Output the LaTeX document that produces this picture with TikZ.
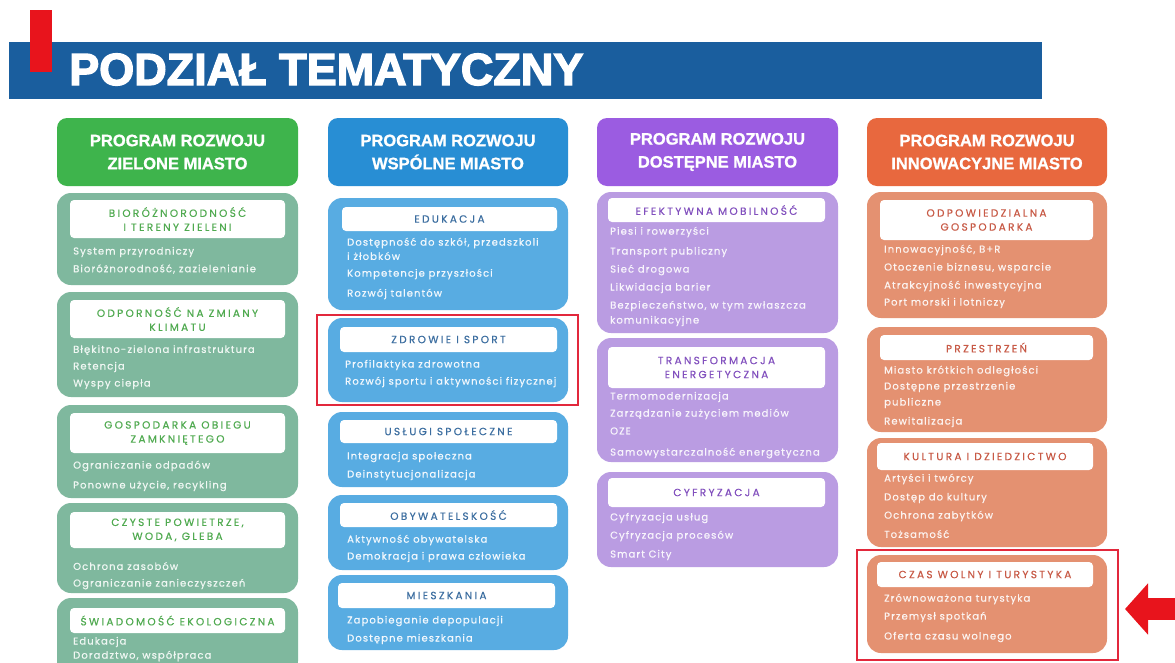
\documentclass[tikz,border=0pt]{standalone}
\usepackage{fontspec}
\usepackage{graphicx}
\setmainfont{Liberation Sans}
\newfontfamily\hdrf{Liberation Sans}[BoldFeatures={FakeBold=1}]
\newfontfamily\titlef{Liberation Sans}[BoldFeatures={FakeBold=3}]
\newfontfamily\subf{Poppins}[LetterSpace=22, FakeBold=0.4]
\newfontfamily\itmf{Poppins}[LetterSpace=11, FakeBold=0.6]
\usetikzlibrary{fit,arrows.meta}
\definecolor{bannerblue}{RGB}{26,94,158}
\definecolor{barred}{RGB}{232,20,28}
\definecolor{framered}{RGB}{226,40,60}
\definecolor{ghead}{RGB}{62,180,76}
\definecolor{gsub}{RGB}{127,184,158}
\definecolor{gtxt}{RGB}{80,170,80}
\definecolor{bhead}{RGB}{40,142,212}
\definecolor{bsub}{RGB}{88,172,226}
\definecolor{btxt}{RGB}{60,110,160}
\definecolor{phead}{RGB}{155,92,225}
\definecolor{psub}{RGB}{186,156,226}
\definecolor{ptxt}{RGB}{130,80,190}
\definecolor{ohead}{RGB}{232,104,62}
\definecolor{osub}{RGB}{228,145,113}
\definecolor{otxt}{RGB}{200,90,70}
\tikzset{
  hdr/.style={inner sep=0pt, outer sep=0pt, rounded corners=10pt, text=white, align=center,
    font=\hdrf\bfseries\fontsize{16.5}{23}\selectfont},
  panel/.style={inner sep=0pt, outer sep=0pt, rounded corners=14pt},
  ttl/.style={inner sep=0pt, outer sep=0pt, fill=white, rounded corners=4pt, align=center,
    font=\subf\fontsize{10.5}{14}\selectfont},
  itm/.style={anchor=west, inner sep=0pt, font=\itmf\fontsize{10}{11}\selectfont},
  gitm/.style={itm, text=white!88!gsub},
  bitm/.style={itm, text=white!92!bsub},
  pitm/.style={itm, text=white!90!psub},
  oitm/.style={itm, text=white!90!osub},
  hilite/.style={draw=framered, line width=1.6pt, inner sep=0pt, outer sep=0pt}
}
\begin{document}
\begin{tikzpicture}[x=1pt,y=-1pt]
\useasboundingbox (0,0) rectangle (1175,662);
\clip (0,0) rectangle (1175,662);
\fill[white] (0,0) rectangle (1175,662);
% banner
\node[fill=bannerblue, inner sep=0pt, fit={(9,42) (1042,99)}] (banner) {};
\node[fill=barred, inner sep=0pt, fit={(30,10) (52,72)}] (bar) {};
\node[anchor=base west, inner sep=0pt, text=white,
  font=\titlef\bfseries\fontsize{45}{45}\selectfont] (title) at (69,85)
  {PODZIAŁ TEMATYCZNY};
% ===== column 1 green
\node[hdr, fill=ghead, fit={(57,118) (298,186)}] (gh) {};
\node[hdr] at (gh.center) (ghtext) {PROGRAM ROZWOJU\\ZIELONE MIASTO};
\node[panel, fill=gsub, fit={(57,193) (298,285)}] (g1) {};
\node[ttl, text=gtxt, fit={(70,200) (285,238)}] (g1t) {};
\node[ttl, fill=none, text=gtxt] at (g1t.center) {BIORÓŻNORODNOŚĆ\\I TERENY ZIELENI};
\node[gitm] (g1a) at (73,252) {System przyrodniczy};
\node[gitm] (g1b) at (73,269) {Bioróżnorodność, zazielenianie};
\node[panel, fill=gsub, fit={(57,292) (298,397)}] (g2) {};
\node[ttl, fit={(70,300) (285,338)}] (g2t) {};
\node[ttl, fill=none, text=gtxt] at (g2t.center) {ODPORNOŚĆ NA ZMIANY\\KLIMATU};
\node[gitm] (g2a) at (73,350) {Błękitno-zielona infrastruktura};
\node[gitm] (g2b) at (73,367) {Retencja};
\node[gitm] (g2c) at (73,384) {Wyspy ciepła};
\node[panel, fill=gsub, fit={(57,405) (298,498)}] (g3) {};
\node[ttl, fit={(70,413) (285,453)}] (g3t) {};
\node[ttl, fill=none, text=gtxt] at (g3t.center) {GOSPODARKA OBIEGU\\ZAMKNIĘTEGO};
\node[gitm] (g3a) at (73,466) {Ograniczanie odpadów};
\node[gitm] (g3b) at (73,486) {Ponowne użycie, recykling};
\node[panel, fill=gsub, fit={(57,503) (298,593)}] (g4) {};
\node[ttl, fit={(70,512) (285,548)}] (g4t) {};
\node[ttl, fill=none, text=gtxt] at (g4t.center) {CZYSTE POWIETRZE,\\WODA, GLEBA};
\node[gitm] (g4a) at (73,566) {Ochrona zasobów};
\node[gitm] (g4b) at (73,584) {Ograniczanie zanieczyszczeń};
\node[panel, fill=gsub, fit={(57,598) (298,675)}] (g5) {};
\node[ttl, fit={(70,608) (285,633)}] (g5t) {};
\node[ttl, fill=none, text=gtxt] at (g5t.center) {ŚWIADOMOŚĆ EKOLOGICZNA};
\node[gitm] (g5a) at (73,642) {Edukacja};
\node[gitm] (g5b) at (73,656) {Doradztwo, współpraca};
% ===== column 2 blue
\node[hdr, fill=bhead, fit={(328,118) (568,186)}] (bh) {};
\node[hdr] at (bh.center) (bhtext) {PROGRAM ROZWOJU\\WSPÓLNE MIASTO};
\node[panel, fill=bsub, fit={(328,198) (568,310)}] (b1) {};
\node[ttl, fit={(342,207) (557,231)}] (b1t) {};
\node[ttl, fill=none, text=btxt] at (b1t.center) {EDUKACJA};
\node[bitm] (b1a) at (347,243) {Dostępność do szkół, przedszkoli};
\node[bitm] (b1b) at (347,256) {i żłobków};
\node[bitm] (b1c) at (347,274) {Kompetencje przyszłości};
\node[bitm] (b1d) at (347,294) {Rozwój talentów};
\node[panel, fill=bsub, fit={(328,318) (568,402)}] (b2) {};
\node[ttl, fit={(340,327) (557,352)}] (b2t) {};
\node[ttl, fill=none, text=btxt] at (b2t.center) {ZDROWIE I SPORT};
\node[bitm] (b2a) at (345,365) {Profilaktyka zdrowotna};
\node[bitm] (b2b) at (345,382) {Rozwój sportu i aktywności fizycznej};
\node[hilite, fit={(317,315) (578,405)}] (frame1) {};
\node[panel, fill=bsub, fit={(328,412) (568,487)}] (b3) {};
\node[ttl, fit={(340,420) (557,443)}] (b3t) {};
\node[ttl, fill=none, text=btxt] at (b3t.center) {USŁUGI SPOŁECZNE};
\node[bitm] (b3a) at (347,457) {Integracja społeczna};
\node[bitm] (b3b) at (347,475) {Deinstytucjonalizacja};
\node[panel, fill=bsub, fit={(328,495) (568,570)}] (b4) {};
\node[ttl, fit={(340,503) (557,527)}] (b4t) {};
\node[ttl, fill=none, text=btxt] at (b4t.center) {OBYWATELSKOŚĆ};
\node[bitm] (b4a) at (347,540) {Aktywność obywatelska};
\node[bitm] (b4b) at (347,557) {Demokracja i prawa człowieka};
\node[panel, fill=bsub, fit={(328,575) (568,650)}] (b5) {};
\node[ttl, fit={(338,583) (555,608)}] (b5t) {};
\node[ttl, fill=none, text=btxt] at (b5t.center) {MIESZKANIA};
\node[bitm] (b5a) at (347,621) {Zapobieganie depopulacji};
\node[bitm] (b5b) at (347,639) {Dostępne mieszkania};
% ===== column 3 purple
\node[hdr, fill=phead, fit={(597,118) (838,186)}] (ph) {};
\node[hdr] at (ph.center) (phtext) {PROGRAM ROZWOJU\\DOSTĘPNE MIASTO};
\node[panel, fill=psub, fit={(597,192) (838,333)}] (p1) {};
\node[ttl, fit={(608,198) (825,222)}] (p1t) {};
\node[ttl, fill=none, text=ptxt] at (p1t.center) {EFEKTYWNA MOBILNOŚĆ};
\node[pitm] (p1a) at (610,232) {Piesi i rowerzyści};
\node[pitm] (p1b) at (610,252) {Transport publiczny};
\node[pitm] (p1c) at (610,270) {Sieć drogowa};
\node[pitm] (p1d) at (610,288) {Likwidacja barier};
\node[pitm] (p1e) at (610,306) {Bezpieczeństwo, w tym zwłaszcza};
\node[pitm] (p1f) at (610,321) {komunikacyjne};
\node[panel, fill=psub, fit={(597,338) (838,462)}] (p2) {};
\node[ttl, fit={(608,347) (825,388)}] (p2t) {};
\node[ttl, fill=none, text=ptxt] at (p2t.center) {TRANSFORMACJA\\ENERGETYCZNA};
\node[pitm] (p2a) at (610,397) {Termomodernizacja};
\node[pitm] (p2b) at (610,414) {Zarządzanie zużyciem mediów};
\node[pitm] (p2c) at (610,431) {OZE};
\node[pitm] (p2d) at (610,453) {Samowystarczalność energetyczna};
\node[panel, fill=psub, fit={(597,472) (838,567)}] (p3) {};
\node[ttl, fit={(608,478) (825,507)}] (p3t) {};
\node[ttl, fill=none, text=ptxt] at (p3t.center) {CYFRYZACJA};
\node[pitm] (p3a) at (610,518) {Cyfryzacja usług};
\node[pitm] (p3b) at (610,536) {Cyfryzacja procesów};
\node[pitm] (p3c) at (610,555) {Smart City};
% ===== column 4 orange
\node[hdr, fill=ohead, fit={(867,118) (1107,186)}] (oh) {};
\node[hdr] at (oh.center) (ohtext) {PROGRAM ROZWOJU\\INNOWACYJNE MIASTO};
\node[panel, fill=osub, fit={(867,192) (1107,318)}] (o1) {};
\node[ttl, fit={(880,200) (1093,240)}] (o1t) {};
\node[ttl, fill=none, text=otxt] at (o1t.center) {ODPOWIEDZIALNA\\GOSPODARKA};
\node[oitm] (o1a) at (884,250) {Innowacyjność, B+R};
\node[oitm] (o1b) at (884,268) {Otoczenie biznesu, wsparcie};
\node[oitm] (o1c) at (884,286) {Atrakcyjność inwestycyjna};
\node[oitm] (o1d) at (884,303) {Port morski i lotniczy};
\node[panel, fill=osub, fit={(867,327) (1107,432)}] (o2) {};
\node[ttl, fit={(880,335) (1093,360)}] (o2t) {};
\node[ttl, fill=none, text=otxt] at (o2t.center) {PRZESTRZEŃ};
\node[oitm] (o2a) at (884,371) {Miasto krótkich odległości};
\node[oitm] (o2b) at (884,387) {Dostępne przestrzenie};
\node[oitm] (o2c) at (884,403) {publiczne};
\node[oitm] (o2d) at (884,422) {Rewitalizacja};
\node[panel, fill=osub, fit={(867,438) (1107,547)}] (o3) {};
\node[ttl, fit={(877,443) (1093,470)}] (o3t) {};
\node[ttl, fill=none, text=otxt] at (o3t.center) {KULTURA I DZIEDZICTWO};
\node[oitm] (o3a) at (884,479) {Artyści i twórcy};
\node[oitm] (o3b) at (884,498) {Dostęp do kultury};
\node[oitm] (o3c) at (884,516) {Ochrona zabytków};
\node[oitm] (o3d) at (884,534) {Tożsamość};
\node[panel, fill=osub, fit={(867,555) (1107,653)}] (o4) {};
\node[ttl, fit={(877,562) (1093,587)}] (o4t) {};
\node[ttl, fill=none, text=otxt] at (o4t.center) {CZAS WOLNY I TURYSTYKA};
\node[oitm] (o4a) at (884,599) {Zrównoważona turystyka};
\node[oitm] (o4b) at (884,617) {Przemysł spotkań};
\node[oitm] (o4c) at (884,637) {Oferta czasu wolnego};
\node[hilite, fit={(857,550) (1118,660)}] (frame2) {};
% arrow
\coordinate (arrowtail) at (1180,609);
\coordinate (arrowtip) at (1125,609);
\draw[barred, line width=22pt, -{Triangle[length=23pt,width=50pt]}] (arrowtail) -- (arrowtip);
\end{tikzpicture}
\end{document}
